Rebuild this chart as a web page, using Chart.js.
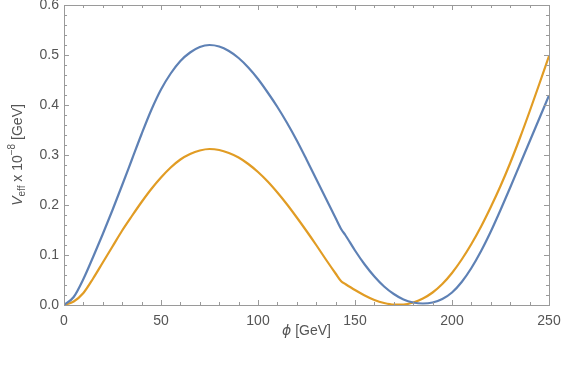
<!DOCTYPE html>
<html>
<head>
<meta charset="utf-8">
<script src="https://cdn.jsdelivr.net/npm/chart.js@4"></script>
<style>
html,body{margin:0;padding:0;background:#fff;}
#wrap{width:561px;height:368px;}
</style>
</head>
<body>
<div id="wrap"><canvas id="c" width="561" height="368"></canvas></div>
<script>
const phi = [0,5,10,15,20,25,30,35,40,45,50,55,60,65,70,75,80,85,90,95,100,105,110,115,120,125,130,135,140,143,145,150,155,160,165,170,175,180,185,190,195,200,205,210,215,220,225,230,235,240,245,250];
const vBlue = [0,0.016,0.052,0.096,0.142,0.19,0.24,0.291,0.342,0.39,0.431,0.463,0.488,0.505,0.516,0.52,0.517,0.508,0.494,0.475,0.452,0.425,0.396,0.364,0.329,0.291,0.252,0.213,0.174,0.151,0.14,0.109,0.081,0.057,0.037,0.022,0.011,0.005,0.003,0.005,0.012,0.025,0.046,0.074,0.108,0.147,0.19,0.235,0.281,0.327,0.373,0.419];
const vOrange = [0,0.007,0.024,0.053,0.085,0.117,0.149,0.178,0.206,0.232,0.255,0.275,0.291,0.302,0.309,0.312,0.31,0.304,0.295,0.282,0.266,0.247,0.225,0.201,0.175,0.148,0.12,0.091,0.063,0.047,0.042,0.03,0.019,0.01,0.004,0.001,0.001,0.005,0.013,0.025,0.042,0.064,0.091,0.122,0.157,0.196,0.238,0.284,0.334,0.387,0.442,0.498];
const xTicks = [0,50,100,150,200,250];
const yTicks = [0,0.1,0.2,0.3,0.4,0.5,0.6];

const toPts = v => phi.map((p,i)=>({x:p,y:v[i]}));

const framePlugin = {
  id:'frame',
  afterDraw(chart){
    const {ctx, chartArea:a, scales} = chart;
    const xs = scales.x, ys = scales.y;
    ctx.save();
    ctx.strokeStyle = '#9a9a9a';
    ctx.lineWidth = 1;
    ctx.strokeRect(a.left+0.5, a.top+0.5, a.right-a.left, a.bottom-a.top);
    ctx.beginPath();
    for(let v=0; v<=250; v+=10){
      const major = v%50===0;
      const L = major?5:3;
      const px = Math.round(xs.getPixelForValue(v))+0.5;
      ctx.moveTo(px, a.bottom); ctx.lineTo(px, a.bottom-L);
      ctx.moveTo(px, a.top); ctx.lineTo(px, a.top+L);
    }
    for(let k=0; k<=30; k++){
      const v = k*0.02;
      const major = k%5===0;
      const L = major?5:3;
      const py = Math.round(ys.getPixelForValue(v))+0.5;
      ctx.moveTo(a.left, py); ctx.lineTo(a.left+L, py);
      ctx.moveTo(a.right, py); ctx.lineTo(a.right-L, py);
    }
    ctx.stroke();
    // y title
    ctx.fillStyle = '#555';
    ctx.translate(18, (a.top+a.bottom)/2);
    ctx.rotate(-Math.PI/2);
    const parts = [
      {t:'V', f:'italic 14px "Liberation Sans", Arial', dy:0},
      {t:'eff', f:'10px "Liberation Sans", Arial', dy:4},
      {t:' x 10', f:'14px "Liberation Sans", Arial', dy:0},
      {t:'\u22128', f:'10px "Liberation Sans", Arial', dy:-6},
      {t:' [GeV]', f:'14px "Liberation Sans", Arial', dy:0}
    ];
    let w = 0;
    parts.forEach(p=>{ctx.font=p.f; w+=ctx.measureText(p.t).width;});
    let x = -w/2;
    ctx.textBaseline = 'middle';
    parts.forEach(p=>{ctx.font=p.f; ctx.fillText(p.t, x, p.dy); x+=ctx.measureText(p.t).width;});
    ctx.restore();
    // x title
    ctx.save();
    ctx.fillStyle = '#555';
    ctx.textBaseline = 'middle';
    const xp = [
      {t:'\u03D5', f:'italic 14px "DejaVu Sans", Arial'},
      {t:' [GeV]', f:'14px "Liberation Sans", Arial'}
    ];
    let w2=0; xp.forEach(p=>{ctx.font=p.f; w2+=ctx.measureText(p.t).width;});
    let x2 = (a.left+a.right)/2 - w2/2;
    xp.forEach(p=>{ctx.font=p.f; ctx.fillText(p.t, x2, 331); x2+=ctx.measureText(p.t).width;});
    ctx.restore();
  }
};

new Chart(document.getElementById('c'), {
  type:'line',
  data:{
    datasets:[
      {data:toPts(vBlue), borderColor:'#5E81B5', borderWidth:2.2, pointRadius:0, cubicInterpolationMode:'monotone', fill:false},
      {data:toPts(vOrange), borderColor:'#E19C24', borderWidth:2.2, pointRadius:0, cubicInterpolationMode:'monotone', fill:false}
    ]
  },
  options:{
    responsive:false,
    animation:false,
    layout:{padding:{left:0,right:12,top:5,bottom:0}},
    plugins:{legend:{display:false}, tooltip:{enabled:false}},
    scales:{
      x:{type:'linear', min:0, max:250,
        grid:{display:false, drawTicks:false},
        border:{display:false},
        afterBuildTicks(s){ s.ticks = xTicks.map(v=>({value:v})); },
        ticks:{padding:8, color:'#555', font:{size:14, family:'"Liberation Sans", Arial'}, maxRotation:0, autoSkip:false},
        afterFit(s){ s.height = 63; s.paddingLeft=0; s.paddingRight=0; }
      },
      y:{type:'linear', min:0, max:0.6,
        grid:{display:false, drawTicks:false},
        border:{display:false},
        afterBuildTicks(s){ s.ticks = yTicks.map(v=>({value:v})); },
        ticks:{padding:5, color:'#555', font:{size:14, family:'"Liberation Sans", Arial'}, callback:v=>Number(v).toFixed(1), autoSkip:false},
        afterFit(s){ s.width = 64; s.paddingTop=0; s.paddingBottom=0; }
      }
    }
  },
  plugins:[framePlugin]
});
</script>
</body>
</html>
